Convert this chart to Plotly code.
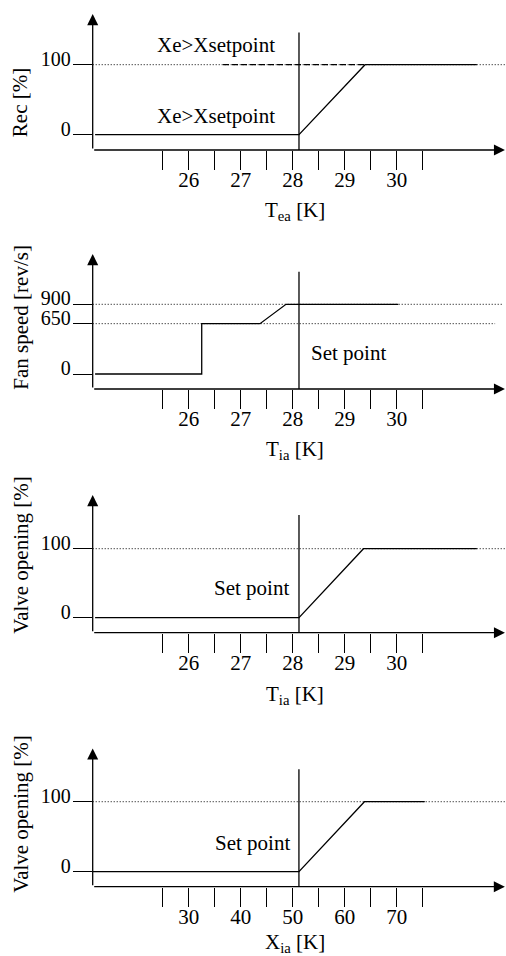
import plotly.graph_objects as go

W, H = 506, 956
FONT = "'Liberation Serif', 'Times New Roman', 'DejaVu Serif', serif"

# ---------------- data ----------------
# Panel 1: recovery vs T_ea
rec_T = [24.2, 28.12, 29.39, 31.54]
rec_v = [0, 0, 100, 100]
rec_dash_T = [26.66, 29.39]
rec_dash_v = [100, 100]
# Panel 2: fan speed vs T_ia
fan_T = [24.2, 26.25, 26.25, 27.37, 27.87, 30.03]
fan_v = [0, 0, 650, 650, 900, 900]
# Panel 3: valve opening vs T_ia
valve_T = [24.2, 28.12, 29.36, 31.54]
valve_T_v = [0, 0, 100, 100]
# Panel 4: valve opening vs X_ia
valve_X = [11.6, 51.2, 63.8, 75.4]
valve_X_v = [0, 0, 100, 100]

setpoint_T = 28.12
setpoint_X = 51.2

T_tickvals = [25.5, 26, 26.5, 27, 27.5, 28, 28.5, 29, 29.5, 30, 30.5]
T_ticktext = ["", "26", "", "27", "", "28", "", "29", "", "30", ""]
X_tickvals = [25, 30, 35, 40, 45, 50, 55, 60, 65, 70, 75]
X_ticktext = ["", "30", "", "40", "", "50", "", "60", "", "70", ""]

# ---------------- layout geometry (pixels) ----------------
x_left_px = 92.7
panels = [
    dict(top=14, bottom=150, yr=[-21.9, 172.4], xr=[24.154, 32.10]),
    dict(top=254, bottom=389, yr=[-193.7, 1549.6], xr=[24.154, 32.10]),
    dict(top=495, bottom=632.7, yr=[-21.7, 177.8], xr=[24.154, 32.10]),
    dict(top=748.3, bottom=886.7, yr=[-21.4, 176.3], xr=[11.54, 91.02]),
]

fig = go.Figure()
LW = 1.3
DOT = "1px,2px"
blk = "black"


def add_line(i, x, y, dash="solid", width=LW):
    ax = "" if i == 1 else str(i)
    fig.add_trace(go.Scatter(x=x, y=y, mode="lines", xaxis="x" + ax, yaxis="y" + ax,
                             line=dict(color=blk, width=width, dash=dash),
                             showlegend=False, hoverinfo="skip"))

# Panel 1
p = panels[0]
add_line(1, [p["xr"][0], p["xr"][1]], [100, 100], dash=DOT, width=1)
add_line(1, rec_dash_T, rec_dash_v, dash="6px,3px", width=LW)
add_line(1, [setpoint_T, setpoint_T], [p["yr"][0], 146], width=LW)
add_line(1, rec_T, rec_v)
# Panel 2
p = panels[1]
add_line(2, [p["xr"][0], 32.04], [900, 900], dash=DOT, width=1)
add_line(2, [p["xr"][0], 31.89], [650, 650], dash=DOT, width=1)
add_line(2, [setpoint_T, setpoint_T], [p["yr"][0], 1321], width=LW)
add_line(2, fan_T, fan_v)
# Panel 3
p = panels[2]
add_line(3, [p["xr"][0], p["xr"][1]], [100, 100], dash=DOT, width=1)
add_line(3, [setpoint_T, setpoint_T], [p["yr"][0], 148.8], width=LW)
add_line(3, valve_T, valve_T_v)
# Panel 4
p = panels[3]
add_line(4, [p["xr"][0], p["xr"][1]], [100, 100], dash=DOT, width=1)
add_line(4, [setpoint_X, setpoint_X], [p["yr"][0], 146.3], width=LW)
add_line(4, valve_X, valve_X_v)

ytickvals = [[0, 100], [0, 650, 900], [0, 100], [0, 100]]
xtick = [(T_tickvals, T_ticktext)] * 3 + [(X_tickvals, X_ticktext)]

layout = dict(width=W, height=H, margin=dict(l=0, r=0, t=0, b=0),
              paper_bgcolor="white", plot_bgcolor="white",
              font=dict(family=FONT, size=21, color=blk), showlegend=False)

for i, p in enumerate(panels, start=1):
    s = "" if i == 1 else str(i)
    dom_y = [1 - p["bottom"] / H, 1 - p["top"] / H]
    layout["xaxis" + s] = dict(domain=[x_left_px / W, 1], range=p["xr"], anchor="y" + s,
                               showgrid=False, zeroline=False, showline=False,
                               tickmode="array", tickvals=xtick[i - 1][0], ticktext=xtick[i - 1][1],
                               ticks="outside", ticklen=19, tickwidth=LW, tickcolor=blk,
                               ticklabelstandoff=-8,
                               tickfont=dict(family=FONT, size=21, color=blk), fixedrange=True)
    layout["yaxis" + s] = dict(domain=dom_y, range=p["yr"], anchor="x" + s,
                               showgrid=False, zeroline=False, showline=False,
                               tickmode="array", tickvals=ytickvals[i - 1],
                               ticktext=[str(v) for v in ytickvals[i - 1]],
                               ticks="outside", ticklen=19, tickwidth=1, tickcolor=blk,
                               ticklabelshift=-6, ticklabelstandoff=-2,
                               tickfont=dict(family=FONT, size=20, color=blk), fixedrange=True)

fig.update_layout(**layout)

annotations = []
x_tips = [32.08, 32.08, 32.08, 90.8]
for i, p in enumerate(panels, start=1):
    s = "" if i == 1 else str(i)
    x0, y0 = p["xr"][0], p["yr"][0]
    annotations.append(dict(x=x_tips[i - 1], y=y0, ax=x0, ay=y0, xref="x" + s, yref="y" + s,
                            axref="x" + s, ayref="y" + s, text="", showarrow=True,
                            arrowhead=2, arrowsize=1.7, arrowwidth=LW, arrowcolor=blk,
                            standoff=0, startstandoff=0))
    annotations.append(dict(x=x0, y=p["yr"][1] * 0.999, ax=x0, ay=y0, xref="x" + s, yref="y" + s,
                            axref="x" + s, ayref="y" + s, text="", showarrow=True,
                            arrowhead=2, arrowsize=1.7, arrowwidth=LW, arrowcolor=blk,
                            standoff=0, startstandoff=0))


def txt(i, x, y, t):
    s = "" if i == 1 else str(i)
    annotations.append(dict(x=x, y=y, xref="x" + s, yref="y" + s, text=t, showarrow=False,
                            font=dict(family=FONT, size=21, color=blk),
                            xanchor="center", yanchor="middle"))

txt(1, 26.52, 128, "Xe>Xsetpoint")
txt(1, 26.52, 26.7, "Xe>Xsetpoint")
txt(2, 29.08, 267, "Set point")
txt(3, 27.2, 42.6, "Set point")
txt(4, 42.2, 41.4, "Set point")

xtitles = ["T<sub>ea</sub> [K]", "T<sub>ia</sub> [K]", "T<sub>ia</sub> [K]", "X<sub>ia</sub> [K]"]
xtitle_y = [210.7, 450, 695, 942.5]
ytitles = ["Rec [%]", "Fan speed [rev/s]", "Valve opening [%]", "Valve opening [%]"]
ytitle_y = [102.5, 317, 555, 814]
for i in range(4):
    annotations.append(dict(x=295 / W, y=1 - xtitle_y[i] / H, xref="paper", yref="paper",
                            text=xtitles[i], showarrow=False, xanchor="center", yanchor="middle",
                            font=dict(family=FONT, size=21, color=blk)))
    annotations.append(dict(x=20.7 / W, y=1 - ytitle_y[i] / H, xref="paper", yref="paper",
                            text=ytitles[i], showarrow=False, xanchor="center", yanchor="middle",
                            textangle=-90, font=dict(family=FONT, size=21, color=blk)))

fig.update_layout(annotations=annotations)
fig.write_html("out.html")
